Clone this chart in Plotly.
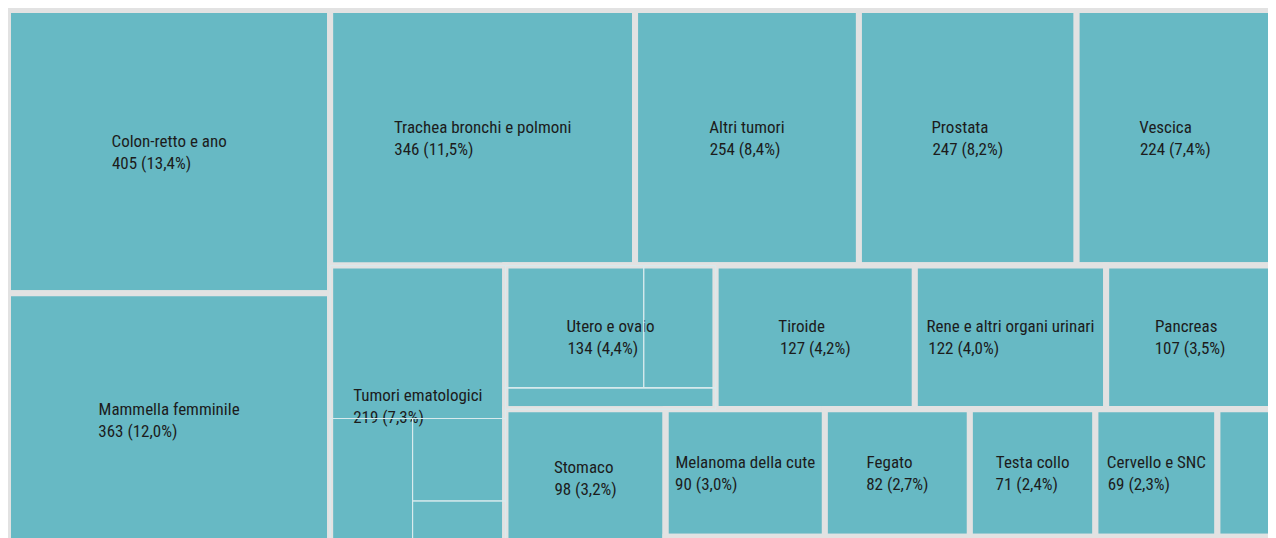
import plotly.graph_objects as go

# --- DATI ---
sedi = [
    "Colon-retto e ano", "Mammella femminile", "Trachea bronchi e polmoni",
    "Altri tumori", "Prostata", "Vescica", "Tumori ematologici", "Utero e ovaio",
    "Tiroide", "Rene e altri organi urinari", "Pancreas", "Stomaco",
    "Melanoma della cute", "Fegato", "Testa collo", "Cervello e SNC",
    "Esofago", "Altre sedi",
]
casi = [405, 363, 346, 254, 247, 224, 219, 134, 127, 122, 107, 98, 90, 82, 71, 69, 32, 28]

# sottocategorie (visibili solo come linee interne)
ematologici = ["Linfomi non Hodgkin", "Leucemie", "Mieloma", "Linfoma di Hodgkin"]
ematologici_casi = [119, 47, 34, 19]
utero_ovaio = ["Ovaio", "Utero corpo", "Utero cervice"]
utero_ovaio_casi = [75, 39, 20]

# --- STILE ---
TEAL = '#67b9c4'
GAP = '#e2e2e2'
INNER_LINE = '#d8eaed'

# strisce alternate (colonna / riga) come nel layout "squarified"
STRIPS = [2, 4, 1, 4, 1, 5, 1]
totale = sum(casi)

# larghezze approssimate (em, Roboto) per allineare a sinistra le due righe
CHAR_W = {'(': .342, ')': .348, ',': .196, '%': .733, '-': .276,
          'a': .544, 'b': .561, 'c': .523, 'd': .563, 'e': .530, 'f': .347, 'g': .561,
          'h': .551, 'i': .243, 'l': .243, 'm': .876, 'n': .552, 'o': .570, 'p': .561,
          'r': .338, 's': .516, 't': .327, 'u': .551, 'v': .484, 'z': .496,
          'A': .652, 'C': .652, 'F': .554, 'M': .875, 'N': .697, 'P': .631, 'R': .616,
          'S': .595, 'T': .596, 'U': .649, 'V': .637}
SPACE_W = .229  # spazio della versione condensed


def text_w(s):
    # condensed: lettere ~0.88, cifre e simboli ~0.90 della versione normale
    w = 0
    for c in s:
        if c == ' ':
            w += SPACE_W
        elif c.isalpha():
            w += CHAR_W.get(c, .53) * 0.88
        else:
            w += CHAR_W.get(c, .5615) * 0.90
    return w


def label(nome, v):
    pct = f"{v / totale * 100:.1f}".replace('.', ',')
    l1, l2 = nome, f"{v} ({pct}%)"
    pad = '\u00a0' * round(abs(text_w(l1) - text_w(l2)) / SPACE_W)
    if text_w(l1) > text_w(l2):
        l2 += pad
    else:
        l1 += pad
    return f"{l1}<br>{l2}"


def build(nodes, parent, items, strips):
    """Nodi annidati: con slice-dice la direzione alterna ad ogni livello."""
    if len(strips) == 1:
        for it in items:
            nodes.append((it[0], parent, it[1], it[2]))
        return
    n = strips[0]
    head, tail = items[:n], items[n:]
    if n == 1:
        nodes.append((head[0][0], parent, head[0][1], head[0][2]))
    else:
        gid = parent + '/g'
        nodes.append((gid, parent, '', 0))
        for it in head:
            nodes.append((it[0], gid, it[1], it[2]))
    rid = parent + '/r'
    nodes.append((rid, parent, '', 0))
    build(nodes, rid, tail, strips[1:])


items = [(s, label(s, v), v) for s, v in zip(sedi, casi)]


def make_nodes(with_children):
    nodes = [('root', '', '', 0)]
    build(nodes, 'root', items, STRIPS)
    if with_children:
        nodes = [(i, p, t, 0 if i in ("Tumori ematologici", "Utero e ovaio") else v)
                 for i, p, t, v in nodes]
        build(nodes, "Tumori ematologici",
              [(e, '', v) for e, v in zip(ematologici, ematologici_casi)], [1, 1, 2])
        build(nodes, "Utero e ovaio",
              [(u, '', v) for u, v in zip(utero_ovaio, utero_ovaio_casi)], [2, 1])
    return nodes


base = make_nodes(False)
sub = make_nodes(True)
sub_ids = set(i for i, p, t, v in sub if p.startswith("Tumori ematologici") or p.startswith("Utero e ovaio"))

common = dict(
    branchvalues='remainder',
    sort=False,
    tiling=dict(packing='slice-dice', pad=0),
    pathbar=dict(visible=False),
    root=dict(color=TEAL),
)

fig = go.Figure()
fig.add_trace(go.Treemap(
    ids=[n[0] for n in base],
    parents=[n[1] for n in base],
    labels=[n[0].split('/')[-1] for n in base],
    values=[n[3] for n in base],
    text=[n[2] for n in base],
    textinfo='text',
    textposition='middle center',
    textfont=dict(family='Roboto Condensed, Roboto, sans-serif', size=17, color='#1c1c1c'),
    marker=dict(colors=[TEAL] * len(base), line=dict(width=6, color=GAP),
                pad=dict(t=0, l=0, r=0, b=0)),
    **common,
))

# seconda traccia trasparente: solo le linee delle sottocategorie
fig.add_trace(go.Treemap(
    ids=[n[0] for n in sub],
    parents=[n[1] for n in sub],
    labels=[n[0].split('/')[-1] for n in sub],
    values=[n[3] for n in sub],
    textinfo='none',
    hoverinfo='skip',
    marker=dict(colors=['rgba(0,0,0,0)'] * len(sub),
                line=dict(width=[1 if n[0] in sub_ids else 0 for n in sub], color=INNER_LINE),
                pad=dict(t=0, l=0, r=0, b=0)),
    **common,
))

# la pagina ha 8px di margine: il treemap continua oltre il bordo inferiore
fig.update_layout(
    width=1266, height=539,
    margin=dict(t=2, l=0, r=0, b=0),
    uniformtext=dict(minsize=17, mode='hide'),
    paper_bgcolor='white',
)

fig.write_html("out.html")
